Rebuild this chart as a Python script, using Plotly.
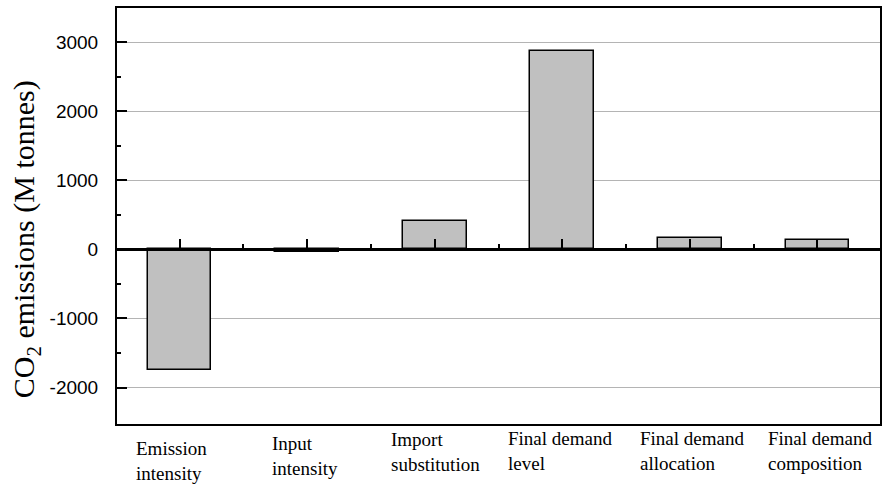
import plotly.graph_objects as go

categories = ["Emission<br>intensity", "Input<br>intensity", "Import<br>substitution",
              "Final demand<br>level", "Final demand<br>allocation", "Final demand<br>composition"]
values = [-1750, -35, 415, 2875, 170, 140]
y_ticks = [-2000, -1000, 0, 1000, 2000, 3000]
y_tick_labels = ["-2000", "-1000", "0", "1000", "2000", "3000"]
y_minor_ticks = [-1500, -500, 500, 1500, 2500]

x_pos = list(range(len(categories)))
y_range = [-2528, 3492]
x_range = [-0.49, len(categories) - 0.51]

# label placement tweaks (pixels)
label_xshift = [-8, -2, 1, -2, 2, 3]
label_ycenter_px = [461, 456, 452, 451, 451, 451]

W, H = 887, 490
ml, mr, mt, mb = 117, 5, 8, 66
plot_h = H - mt - mb

SERIF = "Liberation Serif"
SANS = "Liberation Sans"

fig = go.Figure()
fig.add_trace(go.Bar(
    x=x_pos, y=values, width=0.5,
    marker=dict(color="#c0c0c0", line=dict(color="black", width=1.5)),
    xaxis="x", yaxis="y", showlegend=False, hoverinfo="y"))
# invisible trace to carry the zero-line axis
fig.add_trace(go.Scatter(x=x_range, y=[0, 0], mode="lines", line=dict(width=0),
                         xaxis="x2", yaxis="y", showlegend=False, hoverinfo="skip"))

zero_pos = (0 - y_range[0]) / (y_range[1] - y_range[0])

fig.update_layout(
    width=W, height=H,
    margin=dict(l=ml, r=mr, t=mt, b=mb),
    plot_bgcolor="white", paper_bgcolor="white",
    bargap=0,
    font=dict(family=SERIF, color="black"),
    xaxis=dict(range=x_range, showline=True, mirror=True, linecolor="black", linewidth=2,
               showticklabels=False, ticks="", showgrid=False, zeroline=False),
    xaxis2=dict(range=x_range, overlaying="x", anchor="free", position=zero_pos, side="bottom",
                showline=True, linecolor="black", linewidth=2.5,
                tickmode="array", tickvals=x_pos, ticks="inside", ticklen=10, tickwidth=2,
                tickcolor="black", showticklabels=False, showgrid=False, zeroline=False,
                minor=dict(tickvals=[i + 0.5 for i in x_pos[:-1]], ticks="inside", ticklen=5,
                           tickwidth=2, tickcolor="black")),
    yaxis=dict(range=y_range, showline=True, mirror=True, linecolor="black", linewidth=2,
               tickmode="array", tickvals=y_ticks, ticktext=y_tick_labels,
               ticks="inside", ticklen=10, tickwidth=2,
               tickcolor="black", showgrid=True, gridcolor="#b4b4b4", gridwidth=1,
               zeroline=False, ticklabelstandoff=13,
               tickfont=dict(family=SANS, size=19, color="black"),
               minor=dict(tickmode="array", tickvals=y_minor_ticks, ticks="inside", ticklen=4,
                          tickwidth=2, tickcolor="black", showgrid=False)),
)

annotations = []
for i, lab in enumerate(categories):
    annotations.append(dict(
        x=x_pos[i], xref="x", xanchor="center", xshift=label_xshift[i],
        y=(H - mb - label_ycenter_px[i]) / plot_h, yref="paper", yanchor="middle",
        text=lab, align="left", showarrow=False,
        font=dict(family=SERIF, size=19, color="black")))

annotations.append(dict(
    x=(26 - ml) / (W - ml - mr), xref="paper", xanchor="center",
    y=(H - mb - 239) / plot_h, yref="paper", yanchor="middle",
    text="CO<sub>2</sub> emissions (M tonnes)", textangle=-90, showarrow=False,
    font=dict(family=SERIF, size=30, color="black")))

fig.update_layout(annotations=annotations)

fig.write_html("out.html", config={"displayModeBar": False},
               post_script="document.body.style.margin='0';")
